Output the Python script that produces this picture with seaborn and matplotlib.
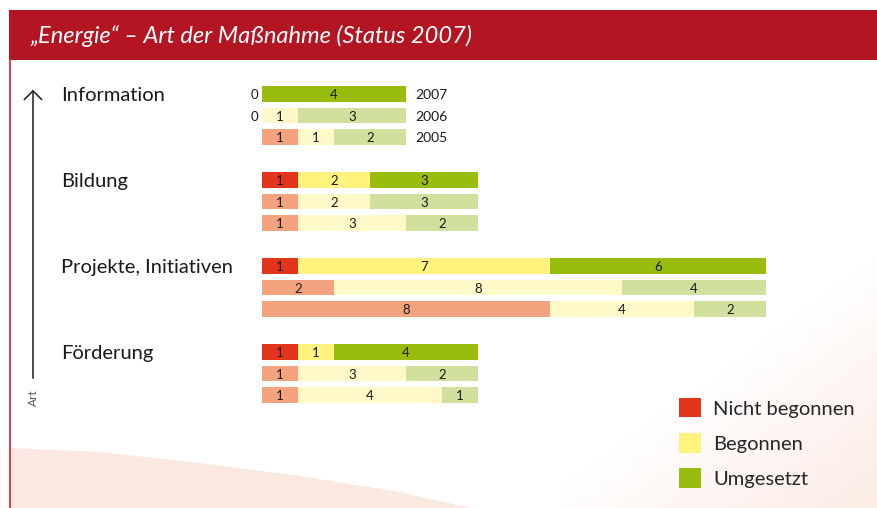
import numpy as np
import pandas as pd
import matplotlib
matplotlib.use("Agg")
import matplotlib.pyplot as plt
import matplotlib.transforms as mtransforms
from matplotlib.patches import Rectangle, Polygon, Patch
import seaborn as sns

# data: per category three rows (2007, 2006, 2005)
categories = ["Information", "Bildung", "Projekte, Initiativen", "Förderung"]
years = ["2007", "2006", "2005"]
nicht_begonnen = [0, 0, 1, 1, 1, 1, 1, 2, 8, 1, 1, 1]
begonnen = [0, 1, 1, 2, 2, 3, 7, 8, 4, 1, 3, 4]
umgesetzt = [4, 3, 2, 3, 3, 2, 6, 4, 2, 4, 2, 1]
status_labels = ["Nicht begonnen", "Begonnen", "Umgesetzt"]

strong = ["#E2351B", "#FFF27D", "#99BD0E"]
light = ["#F3A47E", "#FFF9C9", "#D1E09D"]

rows = []
order = []
i = 0
for c_i, cat in enumerate(categories):
    for y in years:
        key = f"{cat} {y}"
        rows.append(dict(row=key, cat=cat, year=y,
                         nb=nicht_begonnen[i], b=begonnen[i], u=umgesetzt[i]))
        order.append(key)
        i += 1
    if c_i < len(categories) - 1:
        order.append(" " * (c_i + 1))
df = pd.DataFrame(rows)
df["c1"] = df["nb"]
df["c2"] = df["nb"] + df["b"]
df["c3"] = df["nb"] + df["b"] + df["u"]

sns.set_theme(style="white")
plt.rcParams["font.family"] = ["Lato", "DejaVu Sans"]

fig = plt.figure(figsize=(8.77, 5.08), dpi=100)

# background decoration in pixel coordinates
bg = fig.add_axes([0, 0, 1, 1], zorder=-1)
bg.set_xlim(0, 877)
bg.set_ylim(508, 0)
bg.axis("off")

# faint pink wash towards the lower right
gx, gy = np.meshgrid(np.linspace(0, 1, 200), np.linspace(0, 1, 120))
t = np.clip((gx * 0.6 + gy * 0.8 - 0.75) / 0.6, 0, 1)
pink = np.array([252, 236, 230]) / 255
img = np.ones((120, 200, 3)) * (1 - t[..., None]) + pink * t[..., None]
bg.imshow(img, extent=(560, 877, 508, 200), aspect="auto", zorder=0,
          interpolation="bilinear")
bg.add_patch(Polygon([(10, 448), (100, 452), (200, 463), (300, 476), (400, 492),
                      (470, 508), (10, 508)], closed=True,
                     facecolor="#FBE9E1", edgecolor="none", zorder=1))
bg.add_patch(Rectangle((9, 10), 868, 50, facecolor="#B31622", edgecolor="none",
                       zorder=2))
bg.plot([10, 10], [60, 508], color="#C84A58", lw=1.5, zorder=2)
bg.set_xlim(0, 877)
bg.set_ylim(508, 0)
bg.text(30, 36, "\u201eEnergie\u201c \u2013 Art der Maßnahme (Status 2007)",
        color="white", fontsize=17, style="italic", va="center", ha="left",
        zorder=3)
bg.annotate("", xy=(33, 87), xytext=(33, 381),
            arrowprops=dict(arrowstyle="->,head_width=0.45,head_length=0.45",
                            lw=1.1, color="#1a1a1a", mutation_scale=14))
bg.text(33, 398, "Art", rotation=90, fontsize=8.5, color="#555555",
        ha="center", va="center")

ax = fig.add_axes([262 / 877, 1 - 405.75 / 508, 504 / 877, 322.5 / 508])
pal_layers = [
    ("c3", 2),
    ("c2", 1),
    ("c1", 0),
]
for col, k in pal_layers:
    pal = {"2007": strong[k], "2006": light[k], "2005": light[k]}
    sns.barplot(data=df, x=col, y="row", hue="year", order=order,
                hue_order=years, palette=pal, dodge=False, width=0.74,
                orient="h", errorbar=None, saturation=1, linewidth=0,
                legend=False, ax=ax)

ax.set_xlim(0, 14)
ax.set_ylim(len(order) - 0.5, -0.5)
ax.set_facecolor("none")
for s in ax.spines.values():
    s.set_visible(False)
ax.set_xticks([])
ax.set_yticks([])
ax.set_xlabel("")
ax.set_ylabel("")

# value labels
for _, r in df.iterrows():
    pos = order.index(r["row"])
    left = 0
    for v in (r["nb"], r["b"], r["u"]):
        if v > 0:
            ax.text(left + v / 2, pos + 0.05, str(v), ha="center", va="center",
                    fontsize=9.5, color="#1a1a1a")
        left += v
    if r["nb"] == 0:
        ax.text(-0.22, pos + 0.05, "0", ha="center", va="center",
                fontsize=9.5, color="#1a1a1a", clip_on=False)
    if r["cat"] == categories[0]:
        ax.text(r["c3"] + 0.25, pos + 0.05, r["year"], ha="left", va="center",
                fontsize=10, color="#1a1a1a", clip_on=False)

# category labels
trans = mtransforms.blended_transform_factory(fig.transFigure, ax.transData)
for cat in categories:
    pos = order.index(f"{cat} 2007")
    ax.text(61 / 877, pos + 0.08, cat, transform=trans, ha="left", va="center",
            fontsize=14.5, color="#1a1a1a", clip_on=False)

# legend
handles = [Patch(facecolor=c, edgecolor="none", label=l)
           for c, l in zip(strong, status_labels)]
fig.legend(handles=handles, loc="upper left",
           bbox_to_anchor=(679 / 877, 1 - 398 / 508), frameon=False,
           fontsize=14.5, handlelength=1.1, handleheight=1.1,
           handletextpad=0.6, labelspacing=0.78, borderpad=0, borderaxespad=0)

fig.savefig("out.png", dpi=100)
